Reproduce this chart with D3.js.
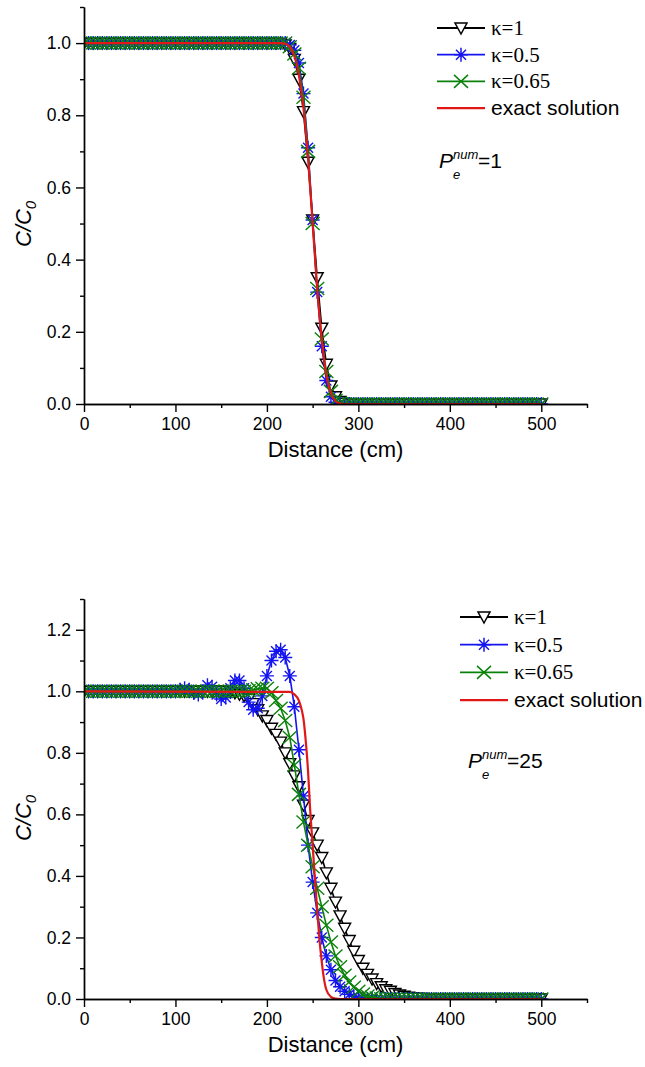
<!DOCTYPE html>
<html lang="en">
<head>
<meta charset="UTF-8">
<title>C/C0 profiles for two Peclet numbers</title>
<script src="https://d3js.org/d3.v7.min.js"></script>
<style>
  body { margin: 0; background: #fff; }
  svg { display: block; font-family: "Liberation Sans", Arial, sans-serif; }
</style>
</head>
<body>
<svg id="vis" width="645" height="1067"></svg>
<script>
// grid positions of the numerical solutions (cm)
const distance = [
  0, 5, 10, 15, 20, 25, 30, 35, 40, 45,
  50, 55, 60, 65, 70, 75, 80, 85, 90, 95,
  100, 105, 110, 115, 120, 125, 130, 135, 140, 145,
  150, 155, 160, 165, 170, 175, 180, 185, 190, 195,
  200, 205, 210, 215, 220, 225, 230, 235, 240, 245,
  250, 255, 260, 265, 270, 275, 280, 285, 290, 295,
  300, 305, 310, 315, 320, 325, 330, 335, 340, 345,
  350, 355, 360, 365, 370, 375, 380, 385, 390, 395,
  400, 405, 410, 415, 420, 425, 430, 435, 440, 445,
  450, 455, 460, 465, 470, 475, 480, 485, 490, 495,
  500
];

// Pe = 1
const pe1_k1 = [
  1, 1, 1, 1, 1, 1, 1, 1, 1, 1,
  1, 1, 1, 1, 1, 1, 1, 1, 1, 1,
  1, 1, 1, 1, 1, 1, 1, 1, 1, 1,
  1, 1, 1, 1, 1, 1, 1, 1, 1, 1,
  1, 1, 1, 1, 0.995, 0.985, 0.955, 0.90, 0.81, 0.67,
  0.51, 0.35, 0.21, 0.11, 0.05, 0.02, 0.007, 0.002, 0, 0,
  0, 0, 0, 0, 0, 0, 0, 0, 0, 0,
  0, 0, 0, 0, 0, 0, 0, 0, 0, 0,
  0, 0, 0, 0, 0, 0, 0, 0, 0, 0,
  0, 0, 0, 0, 0, 0, 0, 0, 0, 0,
  0
];
const pe1_k05 = [
  1, 1, 1, 1, 1, 1, 1, 1, 1, 1,
  1, 1, 1, 1, 1, 1, 1, 1, 1, 1,
  1, 1, 1, 1, 1, 1, 1, 1, 1, 1,
  1, 1, 1, 1, 1, 1, 1, 1, 1, 1,
  1, 1, 1, 1, 1, 0.995, 0.98, 0.945, 0.86, 0.71,
  0.51, 0.31, 0.16, 0.065, 0.02, 0.005, 0, 0, 0, 0,
  0, 0, 0, 0, 0, 0, 0, 0, 0, 0,
  0, 0, 0, 0, 0, 0, 0, 0, 0, 0,
  0, 0, 0, 0, 0, 0, 0, 0, 0, 0,
  0, 0, 0, 0, 0, 0, 0, 0, 0, 0,
  0
];
const pe1_k065 = [
  1, 1, 1, 1, 1, 1, 1, 1, 1, 1,
  1, 1, 1, 1, 1, 1, 1, 1, 1, 1,
  1, 1, 1, 1, 1, 1, 1, 1, 1, 1,
  1, 1, 1, 1, 1, 1, 1, 1, 1, 1,
  1, 1, 1, 1, 1, 0.99, 0.97, 0.93, 0.85, 0.70,
  0.50, 0.32, 0.18, 0.09, 0.035, 0.01, 0.003, 0, 0, 0,
  0, 0, 0, 0, 0, 0, 0, 0, 0, 0,
  0, 0, 0, 0, 0, 0, 0, 0, 0, 0,
  0, 0, 0, 0, 0, 0, 0, 0, 0, 0,
  0, 0, 0, 0, 0, 0, 0, 0, 0, 0,
  0
];
const pe1_exactX = [0, 215, 220, 225, 230, 235, 240, 245, 250, 255, 260, 265, 270, 275, 280, 285, 500];
const pe1_exactY = [1, 1, 0.998, 0.99, 0.965, 0.91, 0.82, 0.68, 0.50, 0.32, 0.18, 0.08, 0.03, 0.008, 0.001, 0, 0];

// Pe = 25
const pe25_k1 = [
  1, 1, 1, 1, 1, 1, 1, 1, 1, 1,
  1, 1, 1, 1, 1, 1, 1, 1, 1, 1,
  1, 1, 1, 1, 1, 1, 1, 1, 1, 1,
  1, 1, 0.998, 0.995, 0.99, 0.985, 0.975, 0.96, 0.94, 0.92,
  0.905, 0.88, 0.86, 0.835, 0.80, 0.765, 0.725, 0.69, 0.63, 0.58,
  0.54, 0.50, 0.46, 0.41, 0.36, 0.315, 0.27, 0.23, 0.19, 0.155,
  0.125, 0.10, 0.08, 0.065, 0.05, 0.04, 0.03, 0.025, 0.018, 0.013,
  0.009, 0.006, 0.004, 0.003, 0.002, 0.001, 0, 0, 0, 0,
  0, 0, 0, 0, 0, 0, 0, 0, 0, 0,
  0, 0, 0, 0, 0, 0, 0, 0, 0, 0,
  0
];
const pe25_k05 = [
  1, 1, 1, 1, 1, 1, 1, 1, 1, 1,
  1, 1, 1, 1, 1, 1, 1, 1, 1, 1,
  1, 1.005, 1.01, 1.005, 0.995, 0.99, 1.0, 1.02, 1.015, 0.99,
  0.975, 0.98, 1.01, 1.035, 1.035, 1.01, 0.965, 0.94, 0.945, 0.985,
  1.05, 1.10, 1.13, 1.135, 1.11, 1.05, 0.95, 0.81, 0.66, 0.50,
  0.38, 0.28, 0.20, 0.14, 0.095, 0.06, 0.04, 0.025, 0.015, 0.008,
  0.004, 0.002, 0, 0, 0, 0, 0, 0, 0, 0,
  0, 0, 0, 0, 0, 0, 0, 0, 0, 0,
  0, 0, 0, 0, 0, 0, 0, 0, 0, 0,
  0, 0, 0, 0, 0, 0, 0, 0, 0, 0,
  0
];
const pe25_k065 = [
  1, 1, 1, 1, 1, 1, 1, 1, 1, 1,
  1, 1, 1, 1, 1, 1, 1, 1, 1, 1,
  1, 1, 1, 1, 1, 1, 1, 1, 1, 1,
  1, 1, 1, 1, 1, 1, 1.002, 1.005, 1.008, 1.01,
  1.01, 0.995, 0.97, 0.945, 0.905, 0.85, 0.76, 0.665, 0.575, 0.50,
  0.43, 0.36, 0.30, 0.24, 0.185, 0.14, 0.105, 0.077, 0.055, 0.038,
  0.025, 0.016, 0.01, 0.006, 0.003, 0.001, 0, 0, 0, 0,
  0, 0, 0, 0, 0, 0, 0, 0, 0, 0,
  0, 0, 0, 0, 0, 0, 0, 0, 0, 0,
  0, 0, 0, 0, 0, 0, 0, 0, 0, 0,
  0
];
const pe25_exactX = [0, 225, 230, 235, 238, 240, 243, 245, 247, 250, 253, 255, 257, 260, 263, 265, 270, 275, 280, 500];
const pe25_exactY = [1, 0.998, 0.99, 0.97, 0.94, 0.91, 0.82, 0.74, 0.63, 0.50, 0.37, 0.29, 0.21, 0.12, 0.055, 0.03, 0.007, 0.001, 0, 0];

const seriesNames = ["κ=1", "κ=0.5", "κ=0.65", "exact solution"];
const seriesColors = ["#000000", "#1414f0", "#0a820a", "#e01818"];
const xMajorTicks = [0, 100, 200, 300, 400, 500];

const svg = d3.select("#vis");

// marker shapes
function markerPath(kind) {
  if (kind === "tri") return "M-6,-5L6,-5L0,6Z";
  if (kind === "star") return "M0,-7V7M-7,0H7M-5,-5L5,5M-5,5L5,-5";
  return "M-7,-6.5L7,6.5M-7,6.5L7,-6.5";
}

function drawPanel(cfg) {
  const g = svg.append("g");
  const x = d3.scaleLinear().domain([0, 550]).range([84, 587]);
  const y = d3.scaleLinear().domain([0, cfg.yMax]).range([cfg.bottom, cfg.top]);

  const clipId = "clip" + cfg.id;
  svg.append("clipPath").attr("id", clipId)
    .append("rect")
    .attr("x", x(0)).attr("y", cfg.top)
    .attr("width", x(550) - x(0)).attr("height", cfg.bottom - cfg.top);

  const plot = g.append("g").attr("clip-path", `url(#${clipId})`);
  const line = d3.line().x(d => x(d[0])).y(d => y(d[1]));

  const numeric = [
    { vals: cfg.k1, color: seriesColors[0], kind: "tri" },
    { vals: cfg.k05, color: seriesColors[1], kind: "star" },
    { vals: cfg.k065, color: seriesColors[2], kind: "x" }
  ];
  numeric.forEach(s => {
    const pts = distance.map((d, i) => [d, s.vals[i]]);
    plot.append("path")
      .attr("d", line(pts))
      .attr("fill", "none")
      .attr("stroke", s.color)
      .attr("stroke-width", 1.6);
    plot.selectAll(null)
      .data(pts)
      .join("path")
      .attr("transform", d => `translate(${x(d[0])},${y(d[1])})`)
      .attr("d", markerPath(s.kind))
      .attr("fill", s.kind === "tri" ? "#fff" : "none")
      .attr("stroke", s.color)
      .attr("stroke-width", 1.4);
  });

  const exact = cfg.exactX.map((d, i) => [d, cfg.exactY[i]]);
  plot.append("path")
    .attr("d", line.curve(d3.curveMonotoneX)(exact))
    .attr("fill", "none")
    .attr("stroke", seriesColors[3])
    .attr("stroke-width", 2.2);

  // axes
  const xMinor = g.append("g")
    .attr("transform", `translate(0,${cfg.bottom})`)
    .call(d3.axisBottom(x).tickValues(d3.range(50, 551, 100)).tickSize(4).tickSizeOuter(0).tickFormat(""));
  const xAxis = g.append("g")
    .attr("transform", `translate(0,${cfg.bottom})`)
    .call(d3.axisBottom(x).tickValues(xMajorTicks).tickSize(8).tickSizeOuter(0).tickPadding(6));
  const yMinor = g.append("g")
    .attr("transform", `translate(84,0)`)
    .call(d3.axisLeft(y).tickValues(cfg.yMinorTicks).tickSize(4).tickSizeOuter(0).tickFormat(""));
  const yAxis = g.append("g")
    .attr("transform", `translate(84,0)`)
    .call(d3.axisLeft(y).tickValues(cfg.yTicks).tickSize(8).tickSizeOuter(0).tickPadding(5).tickFormat(d3.format(".1f")));

  [xMinor, xAxis, yMinor, yAxis].forEach(a => {
    a.selectAll("path, line").attr("stroke", "#000").attr("stroke-width", 1.4);
    a.selectAll("text")
      .attr("font-family", "'Liberation Sans', Arial, sans-serif")
      .attr("font-size", 17.5)
      .attr("fill", "#000");
  });

  // axis titles
  g.append("text")
    .attr("x", (x(0) + x(550)) / 2)
    .attr("y", cfg.bottom + cfg.xTitleDy)
    .attr("text-anchor", "middle")
    .attr("font-size", 22)
    .text("Distance (cm)");

  const yt = g.append("text")
    .attr("transform", `translate(31,${cfg.yTitleY}) rotate(-90)`)
    .attr("text-anchor", "middle")
    .attr("font-size", 22)
    .attr("font-style", "italic");
  yt.append("tspan").text("C/C");
  yt.append("tspan").attr("font-size", 15).attr("dy", 5).text("0");

  // legend
  const leg = g.append("g");
  seriesNames.forEach((name, i) => {
    const ly = cfg.legY + i * cfg.legStep;
    leg.append("line")
      .attr("x1", cfg.legX).attr("x2", cfg.legX + 48)
      .attr("y1", ly).attr("y2", ly)
      .attr("stroke", seriesColors[i])
      .attr("stroke-width", i === 3 ? 2.2 : 1.8);
    if (i < 3) {
      const kind = ["tri", "star", "x"][i];
      leg.append("path")
        .attr("transform", `translate(${cfg.legX + 24},${ly})`)
        .attr("d", markerPath(kind))
        .attr("fill", kind === "tri" ? "#fff" : "none")
        .attr("stroke", seriesColors[i])
        .attr("stroke-width", 1.5);
    }
    leg.append("text")
      .attr("x", cfg.legX + 54)
      .attr("y", ly + 7)
      .attr("font-size", 21)
      .attr("font-family", i < 3 ? "'Liberation Serif', 'Times New Roman', serif" : "'Liberation Sans', Arial, sans-serif")
      .text(name);
  });

  // Peclet annotation
  const pe = g.append("g").attr("transform", `translate(${cfg.peX},${cfg.peY})`);
  pe.append("text").attr("font-size", 21).attr("font-style", "italic").text("P");
  pe.append("text").attr("x", 14).attr("y", -9).attr("font-size", 13).attr("font-style", "italic").text("num");
  pe.append("text").attr("x", 14).attr("y", 11).attr("font-size", 13).attr("font-style", "italic").text("e");
  pe.append("text").attr("x", 39).attr("font-size", 21).text("=" + cfg.pe);
}

drawPanel({
  id: 1, top: 7, bottom: 404, yMax: 1.1,
  yTicks: [0, 0.2, 0.4, 0.6, 0.8, 1.0],
  yMinorTicks: [0.1, 0.3, 0.5, 0.7, 0.9, 1.1],
  k1: pe1_k1, k05: pe1_k05, k065: pe1_k065,
  exactX: pe1_exactX, exactY: pe1_exactY,
  xTitleDy: 53, yTitleY: 224, legX: 437, legY: 28, legStep: 26.7,
  peX: 439, peY: 168, pe: "1"
});

drawPanel({
  id: 2, top: 599, bottom: 999, yMax: 1.3,
  yTicks: [0, 0.2, 0.4, 0.6, 0.8, 1.0, 1.2],
  yMinorTicks: [0.1, 0.3, 0.5, 0.7, 0.9, 1.1, 1.3],
  k1: pe25_k1, k05: pe25_k05, k065: pe25_k065,
  exactX: pe25_exactX, exactY: pe25_exactY,
  xTitleDy: 53, yTitleY: 818, legX: 460, legY: 617, legStep: 27.7,
  peX: 468, peY: 768, pe: "25"
});
</script>
</body>
</html>
